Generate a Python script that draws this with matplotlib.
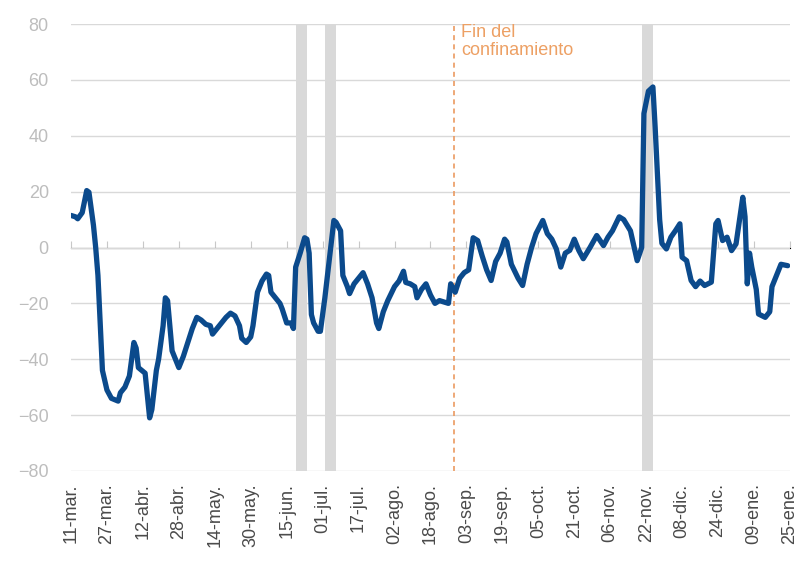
import matplotlib
matplotlib.use("Agg")
import matplotlib.pyplot as plt
import numpy as np
import pandas as pd

plt.rcParams["font.family"] = ["Liberation Sans", "DejaVu Sans"]

# series: days after 11-mar-2020 and value
start = pd.Timestamp("2020-03-11")
days = [0, 2, 3, 5, 7, 8, 10, 11, 12, 14, 16, 18, 21, 22, 24, 25, 26, 28, 29, 30,
        33, 35, 36, 38, 39, 41, 42, 43, 44, 45, 48, 50, 52, 54, 56, 58, 60, 62, 63, 65,
        67, 69, 71, 73, 75, 76, 78, 80, 81, 83, 85, 87, 88, 89, 91, 93, 94, 96, 98, 99,
        100, 102, 104, 105, 106, 107, 108, 110, 111, 113, 115, 117, 118, 120, 121, 123, 124, 126, 130, 132,
        134, 136, 137, 139, 141, 144, 146, 148, 149, 151, 153, 154, 156, 158, 160, 162, 164, 166, 168, 169,
        171, 173, 175, 177, 179, 181, 183, 185, 187, 189, 191, 193, 194, 196, 199, 201, 203, 205, 207, 210,
        212, 214, 216, 218, 220, 222, 224, 226, 228, 231, 234, 237, 239, 241, 244, 246, 249, 252, 254, 255,
        257, 259, 260, 262, 263, 265, 267, 269, 271, 272, 274, 276, 278, 280, 282, 285, 287, 288, 290, 292,
        294, 296, 299, 300, 301, 302, 303, 305, 306, 309, 311, 312, 314, 316, 319]
values = [11.5, 11, 10.3, 12.5, 20.4, 19.8, 8, 0, -10, -44, -51, -54, -55, -52, -50, -48, -46, -34, -36, -43,
          -45, -61, -58, -44, -40, -28, -18, -19, -28, -37, -43, -39, -34, -29, -25, -26, -27.5, -28, -31, -29,
          -27, -25, -23.5, -24.5, -28, -32.5, -34, -32, -28, -16, -12, -9.5, -10, -16, -18, -20, -22, -27, -27, -29,
          -7, -2, 3.5, 3, -2, -24, -27, -30, -30, -18, -4, 9.7, 9, 6, -10, -14, -16.5, -13, -9, -13,
          -18, -27, -29, -23, -19, -14, -12, -8.5, -12.5, -13, -14, -18, -15, -13, -17, -20, -19, -19.5, -20, -13,
          -16, -11, -9, -8, 3.5, 2.5, -3, -8, -11.8, -5, -2, 3, 2, -6, -11, -13.6, -6, 0, 5, 9.7,
          5, 3, -0.5, -7, -2, -1, 3, -1, -4, 0, 4.3, 0.7, 3.7, 6, 11, 10, 6, -4.7, 0, 48,
          56, 57.5, 43, 10, 1.5, -0.5, 3.7, 6, 8.5, -3.5, -4.7, -11.8, -14, -12, -13.6, -12.4, 8.5, 9.7, 2.5, 3.7,
          -1.1, 1.3, 18, 11, -13, -2, -7, -15, -23.8, -25, -23, -14, -10, -6, -6.5]

# shaded periods and lockdown-end marker
bands = [("2020-06-19", "2020-06-24"), ("2020-07-02", "2020-07-07"), ("2020-11-20", "2020-11-25")]
fin_confinamiento = pd.Timestamp("2020-08-28 12:00")

tick_dates = pd.date_range("2020-03-11", periods=21, freq="16D")
month_abbr = ["ene", "feb", "mar", "abr", "may", "jun", "jul", "ago", "sep", "oct", "nov", "dic"]
tick_labels = [f"{d.day:02d}-{month_abbr[d.month - 1]}." for d in tick_dates]

dates = start + pd.to_timedelta(days, unit="D")

fig = plt.figure(figsize=(8.02, 5.75), dpi=100)
ax = fig.add_axes([0.0885, 0.181, 0.8965, 0.777])

for a, b in bands:
    ax.axvspan(pd.Timestamp(a), pd.Timestamp(b), color="#d9d9d9", lw=0, zorder=1)

ax.axvline(fin_confinamiento, color="#eb9a60", lw=1.2, ls=(0, (3, 2.5)), zorder=2)
ax.text(fin_confinamiento + pd.Timedelta(days=3), 80, "Fin del\nconfinamiento",
        color="#eda064", fontsize=13, va="top", ha="left", linespacing=1.1)

ax.plot(dates, values, color="#0b4a8c", lw=3.8, solid_joinstyle="round",
        solid_capstyle="round", zorder=3)

ax.set_ylim(-80, 80)
ax.set_yticks(np.arange(-80, 81, 20))
ax.set_xlim(tick_dates[0], tick_dates[-1])
ax.grid(axis="y", color="#d9d9d9", lw=1)
ax.set_axisbelow(True)
for s in ax.spines.values():
    s.set_visible(False)

ax.set_xticks(tick_dates)
ax.set_xticklabels(tick_labels, rotation=90, color="#4a4a4a", fontsize=13)
ax.tick_params(axis="x", length=0, pad=9)
ax.tick_params(axis="y", length=0, pad=16, labelcolor="#bdbdbd", labelsize=13)

# axis line with tick marks at zero
zero_ax = ax.secondary_xaxis(0.5)
zero_ax.set_xticks(tick_dates)
zero_ax.set_xticklabels([])
zero_ax.tick_params(axis="x", direction="out", length=5, color="#c8c8c8")
zero_ax.spines["bottom"].set_color("#c8c8c8")

fig.savefig("out.png", dpi=100, facecolor="white")
